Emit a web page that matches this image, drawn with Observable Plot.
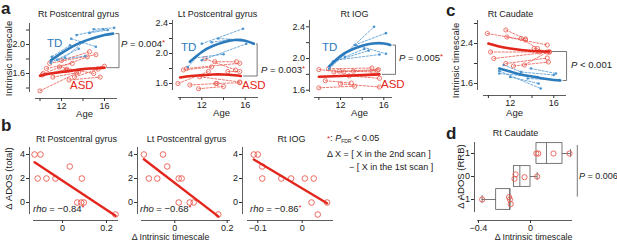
<!DOCTYPE html>
<html><head><meta charset="utf-8">
<script src="https://cdn.jsdelivr.net/npm/d3@7"></script>
<script src="https://cdn.jsdelivr.net/npm/@observablehq/plot@0.6"></script>
<style>
body{margin:0;background:#fff;}
#chart{position:relative;width:617px;height:242px;overflow:hidden;background:#fff;font-family:"Liberation Sans",Arial,Helvetica,sans-serif;color:#222;}
#chart svg{position:absolute;left:0;top:0;overflow:visible;}
.ann{position:absolute;white-space:nowrap;font-size:9px;line-height:1;transform:translateY(-50%);}
.ast{color:#e3261c;font-size:8px;position:relative;top:-2px;}
.let{position:absolute;font-weight:bold;font-size:17px;line-height:1;}
</style></head><body><div id="chart"></div>
<script>
// ---------- DATA ----------
const ageTicks=[10,12,14,16], ageLabels=[12,16];
// panel a: Rt Postcentral gyrus  [age1, value1, age2, value2]
const a1TD=[[13.4,2.13,15.9,2.21],[14.6,2.16,16.3,2.20],[15.0,2.21,16.9,2.23],[12.9,2.08,15.2,1.97],[11.0,1.75,13.6,1.94],[11.6,1.79,14.2,1.84],[12.3,1.82,14.0,2.03],[11.1,1.83,12.8,1.99]];
const a1TDfit=[[11.0,1.78],[12,1.88],[13,1.97],[14,2.04],[15,2.09],[16,2.13],[16.8,2.15]];
const a1ASD=[[10.0,1.36,13.6,1.62],[10.3,1.60,14.4,1.83],[10.6,1.67,13.0,1.74],[10.9,1.74,15.2,1.86],[11.2,1.55,13.4,1.61],[12.7,1.51,15.6,1.55],[11.8,1.69,15.0,1.60],[12.4,1.64,16.0,1.70],[13.2,1.55,15.4,1.66],[12.0,1.78,14.6,1.90],[10.2,1.58,12.5,1.66]];
const a1ASDfit=[[10,1.57],[11,1.60],[12,1.62],[13,1.64],[14,1.66],[15,1.67],[16,1.68]];
// panel a: Lt Postcentral gyrus
const a2TD=[[12.0,2.13,15.8,2.33],[12.9,2.15,14.5,2.18],[10.7,1.82,12.0,2.02],[12.0,1.91,16.1,2.13],[11.3,1.94,14.0,1.99],[13.5,2.20,15.6,2.18]];
const a2TDfit=[[10.9,1.89],[12,2.02],[13,2.10],[14,2.15],[15,2.18],[16,2.17],[16.8,2.13]];
const a2ASD=[[9.8,1.60,12.6,1.76],[10.3,1.78,12.9,1.82],[10.6,1.80,15.5,1.87],[12.3,1.93,15.1,1.78],[13.2,1.89,15.2,1.89],[10.9,1.58,13.4,1.60],[11.7,1.53,14.0,1.56],[13.3,1.60,15.5,1.61],[11.8,1.69,15.5,1.62],[14.4,1.76,15.5,1.76]];
const a2ASDfit=[[10,1.68],[11,1.70],[12,1.71],[13,1.72],[14,1.72],[15,1.71],[15.6,1.70]];
// panel a: Rt IOG
const a3TD=[[10.95,1.87,15.1,2.40],[13.3,2.17,16.2,2.32],[13.4,2.17,16.2,2.06],[11.3,1.96,14.6,2.10],[11.6,1.98,15.6,2.05],[12.4,2.02,14.2,2.12]];
const a3TDfit=[[10.95,1.90],[12,2.03],[13,2.11],[14,2.16],[15,2.19],[16,2.19],[16.6,2.17]];
const a3ASD=[[10.0,1.86,12.3,1.83],[10.0,1.63,13.3,1.65],[11.4,1.83,15.4,1.85],[11.9,1.84,15.5,1.86],[10.6,1.72,13.0,1.69],[12.8,1.78,15.6,1.75],[12.0,1.68,15.6,1.64],[10.9,1.87,14.9,1.88],[13.2,1.84,15.0,1.83]];
const a3ASDfit=[[10,1.77],[12,1.78],[14,1.79],[15.6,1.80]];
// panel c: Rt Caudate
const cASD=[[9.9,2.60,13.4,2.47],[11.6,2.67,13.4,2.49],[11.7,2.53,15.4,2.37],[13.0,2.50,14.5,2.30],[10.2,2.23,14.7,2.23],[10.5,2.10,15.6,2.23],[11.6,2.00,15.4,2.11],[12.3,1.95,15.5,2.03],[13.3,1.97,15.4,2.23],[14.2,2.30,15.6,2.23]];
const cASDfit=[[10,2.40],[11,2.34],[12,2.30],[13,2.27],[14,2.25],[15,2.24],[15.6,2.24]];
const cTD=[[11.0,1.80,14.5,1.73],[11.0,1.85,14.8,1.50],[11.4,1.97,13.0,1.83],[12.0,1.73,14.6,1.60],[13.0,1.83,16.0,1.77],[13.9,1.90,16.2,1.80],[13.6,1.70,16.5,1.67]];
const cTDfit=[[11,1.90],[12,1.84],[13,1.78],[14,1.74],[15,1.70],[16,1.67],[16.6,1.66]];
// panel b: delta intrinsic timescale vs delta ADOS (total)
const b1X=[-0.127,-0.100,-0.113,-0.073,-0.032,0.033,0.088,0.067,0.085,0.097,0.241];
const b1Y=[4,4,2,2,2,3,2,0,0,0,-1];
const b2X=[-0.118,-0.099,-0.067,-0.045,-0.029,0.015,0.026,0.015,0.057,0.072,0.166];
const b2Y=[4,2,2,4,3,2,2,0,0,0,-1];
const b3X=[-0.109,-0.100,-0.090,-0.090,-0.047,-0.025,0.006,0.026,0.021,0.056,0.035];
const b3Y=[4,4,3,2,2,2,2,2,0,0,-1];
// panel d: box summaries per ADOS (RRB) change
const dLevel=[-1,0,1];
const dQ1=[-0.264,-0.128,0.046], dMed=[-0.160,-0.082,0.123], dQ3=[-0.154,0.000,0.246];
const dLo=[-0.372,-0.128,0.046], dHi=[-0.154,0.051,0.308];
const dPX=[-0.372,-0.165,-0.158,-0.152,-0.123,-0.115,-0.046,0.051,0.045,0.060,0.177,0.300];
const dPY=[-1,-0.9,-1.0,-1.2,-0.1,0.09,-0.03,0,1,1,1,1];

// ---------- STYLE ----------
const W=617,H=242;
const blue="#2c7bbd", blueL="#4d96d0", red="#e3261c", redL="#e9584d", gray="#555", axc="#333";
const FONT='"Liberation Sans", Arial, Helvetica, sans-serif';
const TICK=9;
const chart=document.getElementById("chart");
const labels=[]; // text placed in a pixel-space overlay plot

function lin(v1,p1,v2,p2,p){return v1+(p-p1)*(v2-v1)/(p2-p1);}
function setup(c){
  return {xd:[lin(...c.xt,c.L),lin(...c.xt,c.R)], yd:[lin(...c.yt,c.B),lin(...c.yt,c.T)]};
}
function axes(c,f,xt,xl,xfmt,yt,yl,yfmt){
  const xu=xt.filter(d=>!xl.includes(d)), yu=yt.filter(d=>!yl.includes(d));
  const m=[
    Plot.ruleX([f.xd[0]],{y1:f.yd[0],y2:f.yd[1],dx:c.ax-c.L,stroke:axc,strokeWidth:0.8}),
    Plot.ruleY([f.yd[0]],{x1:f.xd[0],x2:f.xd[1],dy:c.ay-c.B,stroke:axc,strokeWidth:0.8}),
    Plot.axisX(xl,{tickFormat:xfmt,tickSize:3,tickPadding:1,label:null,fontSize:TICK,stroke:axc}),
    Plot.axisY(yl,{tickFormat:yfmt,tickSize:3,tickPadding:1.5,label:null,fontSize:TICK,stroke:axc})
  ];
  if(xu.length) m.push(Plot.axisX(xu,{tickFormat:()=>"",tickSize:3,label:null,stroke:axc}));
  if(yu.length) m.push(Plot.axisY(yu,{tickFormat:()=>"",tickSize:3,label:null,stroke:axc}));
  return m;
}
function lab(text,x,y,fontSize=9,rotate=0){labels.push({text,x,y,fontSize,rotate});}
function draw(c,marks){
  const f=c.f;
  chart.appendChild(Plot.plot({width:W,height:H,marginLeft:c.ax,marginRight:W-c.R,marginTop:c.T,marginBottom:H-c.ay,
    insetLeft:c.L-c.ax,insetBottom:c.ay-c.B,x:{domain:f.xd},y:{domain:f.yd},
    style:{background:"transparent",overflow:"visible",fontFamily:FONT,fontSize:"9px",color:"#222"},marks}));
}
const num=d=>d<0?"\u2212"+Math.abs(d):String(d);
function pairs(arr){return arr.flatMap((s,i)=>[{id:i,age:s[0],v:s[1]},{id:i,age:s[2],v:s[3]}]);}
function pts(X,Y){return X.map((x,i)=>({x,y:Y[i]}));}

function agePanel(c,top,topFit,bot,botFit,bx,topCol,topColL,topDots,botCol,botColL,botDots,yt,yl){
  c.f=setup(c);
  const t=topFit[topFit.length-1], b=botFit[botFit.length-1];
  const br=[[t[0]+0.25,t[1]],[bx,t[1]],[bx,b[1]],[b[0]+0.25,b[1]]];
  const grp=(arr,col,dots)=>[
    Plot.line(pairs(arr),{x:"age",y:"v",z:"id",stroke:col,strokeWidth:0.8,strokeDasharray:"2.2,1.6"}),
    dots==="open"?Plot.dot(pairs(arr),{x:"age",y:"v",r:2.1,stroke:col,strokeWidth:0.8,fill:"none"})
                 :Plot.dot(pairs(arr),{x:"age",y:"v",r:1.3,fill:col})];
  draw(c,[
    ...axes(c,c.f,ageTicks,ageLabels,d=>String(d),yt,yl,d=>d.toFixed(1)),
    ...grp(bot,botColL,botDots),
    ...grp(top,topColL,topDots),
    Plot.line(botFit,{x:d=>d[0],y:d=>d[1],stroke:botCol,strokeWidth:2.6,curve:"natural"}),
    Plot.line(topFit,{x:d=>d[0],y:d=>d[1],stroke:topCol,strokeWidth:2.6,curve:"natural"}),
    Plot.line(br,{x:d=>d[0],y:d=>d[1],stroke:gray,strokeWidth:0.8})
  ]);
}

agePanel({ax:29,L:35,R:117,ay:98,T:23,B:92,xt:[12,61,16,104],yt:[1.6,73,2.0,44]},
  a1TD,a1TDfit,a1ASD,a1ASDfit,17.35,blue,blueL,"dot",red,redL,"open",[1.4,1.6,1.8,2.0,2.2],[1.6,2.0]);
agePanel({ax:172,L:178,R:258,ay:97,T:20,B:90,xt:[12,201.3,16,244.7],yt:[1.6,83,2.0,53]},
  a2TD,a2TDfit,a2ASD,a2ASDfit,17.1,blue,blueL,"dot",red,redL,"open",[1.6,1.8,2.0,2.2,2.4],[1.6,2.0,2.4]);
agePanel({ax:309,L:314,R:392,ay:97,T:20,B:92,xt:[12,340,16,383.3],yt:[1.6,89.7,2.0,58]},
  a3TD,a3TDfit,a3ASD,a3ASDfit,17.08,blue,blueL,"dot",red,redL,"open",[1.6,1.8,2.0,2.2,2.4],[1.6,2.0,2.4]);
agePanel({ax:477,L:483,R:566,ay:95,T:20,B:90,xt:[12,509.7,16,553.3],yt:[1.6,83,2.4,43]},
  cASD,cASDfit,cTD,cTDfit,17.17,red,redL,"open",blue,blueL,"dot",[1.6,2.0,2.4,2.8],[1.6,2.4]);
lab("Rt Postcentral gyrus",78,14); lab("Lt Postcentral gyrus",217,14); lab("Rt IOG",354,14); lab("Rt Caudate",510,14);
lab("Age",84,113,9.5); lab("Age",221,112,9.5); lab("Age",359,112,9.5); lab("Age",514,112,9.5);
lab("Intrinsic timescale",8,58,9.5,-90); lab("Intrinsic timescale",455,60,9.5,-90);

function scatterPanel(c,X,Y,xt,yt){
  c.f=setup(c);
  draw(c,[
    ...axes(c,c.f,xt,xt,num,yt,yt,num),
    Plot.dot(pts(X,Y),{x:"x",y:"y",r:2.8,stroke:redL,strokeWidth:0.9,fill:"none"}),
    Plot.linearRegressionY(pts(X,Y),{x:"x",y:"y",stroke:red,strokeWidth:2.4,ci:0})
  ]);
}
scatterPanel({ax:29,L:33,R:118,ay:220,T:147,B:214,xt:[0,62,0.2,106],yt:[0,202,4,154]},b1X,b1Y,[0,0.2],[0,2,4]);
scatterPanel({ax:137,L:141,R:230,ay:220,T:147,B:214,xt:[0,174.3,0.2,226.7],yt:[0,202,4,154]},b2X,b2Y,[0,0.2],[0,2,4]);
scatterPanel({ax:242,L:247,R:333,ay:220,T:147,B:214,xt:[-0.1,257.3,0,301.7],yt:[0,202,4,154]},b3X,b3Y,[-0.1,0],[0,2,4]);
lab("Rt Postcentral gyrus",76,139); lab("Lt Postcentral gyrus",186,139); lab("Rt IOG",291,139);
lab("\u0394 ADOS (total)",8,178,9.5,-90); lab("\u0394 Intrinsic timescale",170,236.5,8.8);

(function(){
  const c={ax:474,L:477,R:572,ay:220,T:142,B:212,xt:[-0.4,478,0,530],yt:[-1,199,1,153]};
  c.f=setup(c);
  const box=dLevel.map((lv,i)=>({lv,q1:dQ1[i],med:dMed[i],q3:dQ3[i],lo:dLo[i],hi:dHi[i]}));
  const lowW=box.filter(d=>d.lo<d.q1), hiW=box.filter(d=>d.hi>d.q3);
  draw(c,[
    ...axes(c,c.f,[-0.4,0],[-0.4,0],num,[-1,0,1],[-1,0,1],num),
    Plot.ruleY(lowW,{y:"lv",x1:"lo",x2:"q1",stroke:gray,strokeWidth:0.8}),
    Plot.ruleY(hiW,{y:"lv",x1:"q3",x2:"hi",stroke:gray,strokeWidth:0.8}),
    Plot.ruleX(lowW,{x:"lo",y1:d=>d.lv-0.17,y2:d=>d.lv+0.17,stroke:gray,strokeWidth:0.8}),
    Plot.ruleX(hiW,{x:"hi",y1:d=>d.lv-0.17,y2:d=>d.lv+0.17,stroke:gray,strokeWidth:0.8}),
    Plot.rect(box,{x1:"q1",x2:"q3",y1:d=>d.lv-0.45,y2:d=>d.lv+0.45,stroke:gray,strokeWidth:0.8,fill:"none"}),
    Plot.ruleX(box,{x:"med",y1:d=>d.lv-0.45,y2:d=>d.lv+0.45,stroke:gray,strokeWidth:0.8}),
    Plot.dot(pts(dPX,dPY),{x:"x",y:"y",r:2.6,stroke:redL,strokeWidth:0.9,fill:"none"}),
    Plot.ruleX([0.36],{y1:-0.9,y2:1.35,stroke:gray,strokeWidth:0.8})
  ]);
})();
lab("Rt Caudate",515,133); lab("\u0394 Intrinsic timescale",533,236.5,8.8); lab("\u0394 ADOS (RRB)",460,176,9.5,-90);

// overlay plot in pixel coordinates for titles and axis labels
chart.appendChild(Plot.plot({width:W,height:H,marginTop:0,marginRight:0,marginBottom:0,marginLeft:0,
  x:{type:"identity",axis:null},y:{type:"identity",axis:null},
  style:{background:"transparent",overflow:"visible",fontFamily:FONT,color:"#222"},
  marks:labels.map(l=>Plot.text([l],{x:"x",y:"y",text:"text",fontSize:l.fontSize,rotate:l.rotate,textAnchor:"middle",lineAnchor:"middle",fill:"#222"}))}));

// ---------- HTML annotations ----------
function ann(html,x,y,extra=""){const d=document.createElement("div");d.className="ann";d.style.cssText=`left:${x}px;top:${y}px;${extra}`;d.innerHTML=html;chart.appendChild(d);}
function letter(s,x,y){const d=document.createElement("div");d.className="let";d.style.left=x+"px";d.style.top=y+"px";d.textContent=s;chart.appendChild(d);}
letter("a",1,0);letter("b",1,117);letter("c",446,2);letter("d",446,125);
const big="font-size:11.5px;";
ann("TD",47,44,big+"color:"+blue);ann("ASD",70,86,big+"color:"+red);
ann("TD",181,48,big+"color:"+blue);ann("ASD",242,86,big+"color:"+red);
ann("TD",322,48,big+"color:"+blue);ann("ASD",381,85,big+"color:"+red);
const P=(v,s)=>`<i>P</i> = ${v}${s?'<span class="ast">*</span>':''}`;
ann(P("0.004",1),121,44,"font-size:9.5px");
ann(P("0.003",1),261,70,"font-size:9.5px");
ann(P("0.005",1),399,58,"font-size:9.5px");
ann("<i>P</i> &lt; 0.001",571,65,"font-size:9.5px");
ann("<i>P</i> = 0.006",579,176,"font-size:9px");
const R=v=>`<i>rho</i> = \u2212${v}<span class="ast">*</span>`;
ann(R("0.84"),33,209,"font-size:9.5px");ann(R("0.68"),140,209,"font-size:9.5px");ann(R("0.86"),250,209,"font-size:9.5px");
ann('<span class="ast" style="top:0">*</span>: <i>P</i><sub style="font-size:5px">FDR</sub> &lt; 0.05',327,139,"font-size:9px");
ann("\u0394 X = [ X in the 2nd scan ]",327,154,"font-size:9px");
ann("\u2212 [ X in the 1st scan ]",349,167,"font-size:9px");
</script></body></html>
